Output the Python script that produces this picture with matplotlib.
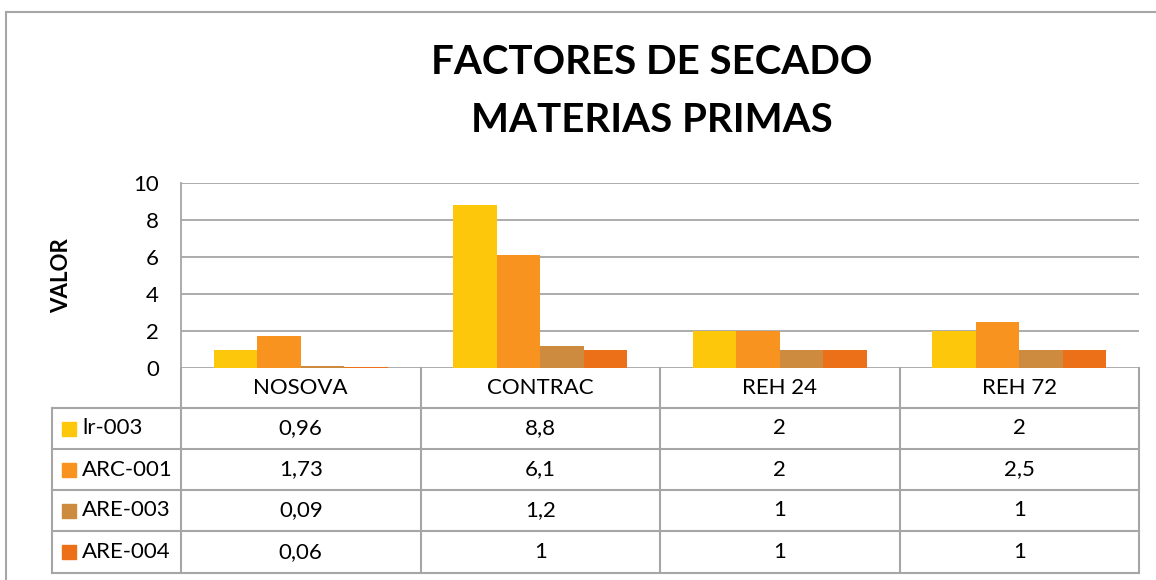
import numpy as np
import matplotlib.pyplot as plt
from matplotlib.lines import Line2D
from matplotlib.patches import Rectangle
from matplotlib import transforms

#* Datos del grafico
categorias = ['NOSOVA', 'CONTRAC', 'REH 24', 'REH 72']
series = ['lr-003', 'ARC-001', 'ARE-003', 'ARE-004']
valores_ir003 = [0.96, 8.8, 2, 2]
valores_arc001 = [1.73, 6.1, 2, 2.5]
valores_are003 = [0.09, 1.2, 1, 1]
valores_are004 = [0.06, 1, 1, 1]
textos_tabla = [
  ['0,96', '8,8', '2', '2'],
  ['1,73', '6,1', '2', '2,5'],
  ['0,09', '1,2', '1', '1'],
  ['0,06', '1', '1', '1'],
]
titulo = ['FACTORES DE SECADO', 'MATERIAS PRIMAS']
colores = ['#FDC70C', '#F7931E', '#CD8B40', '#EB7018']

W, H = 1156, 580
gris = '#A6A6A6'

plt.rcParams['font.family'] = ['Lato', 'DejaVu Sans']

def main() -> None:
  fig = plt.figure(figsize=(W/100, H/100), dpi=100)

  #* Capa en pixeles para marco y tabla
  capa = fig.add_axes([0, 0, 1, 1], zorder=0)
  capa.set_xlim(0, W)
  capa.set_ylim(H, 0)
  capa.axis('off')

  #* Eje de barras
  x0, x1, y_top, y_bot = 181, 1139, 183, 368
  ax = fig.add_axes([x0/W, 1 - y_bot/H, (x1 - x0)/W, (y_bot - y_top)/H], zorder=1)
  ax.set_facecolor('none')

  datos = [valores_ir003, valores_arc001, valores_are003, valores_are004]
  x = np.arange(len(categorias))
  ancho = 1/5.5
  for i, (vals, col) in enumerate(zip(datos, colores)):
    ax.bar(x + (i - 1.5)*ancho, vals, width=ancho, color=col, zorder=3)

  ax.set_xlim(-0.5, len(categorias) - 0.5)
  ax.set_ylim(0, 10)
  ax.set_yticks(np.arange(0, 11, 2))
  ax.set_xticks([])
  ax.yaxis.grid(True, color=gris, linewidth=1.3, zorder=0)
  for s in ['top', 'right', 'bottom']:
    ax.spines[s].set_visible(False)
  ax.spines['left'].set_color(gris)
  ax.spines['left'].set_linewidth(1.3)
  ax.tick_params(axis='y', length=0, pad=16, labelsize=16)
  ax.set_ylabel('VALOR', fontsize=16, fontweight='bold', labelpad=44)

  #* Titulo (dos lineas)
  xc = 652
  for k, linea in enumerate(titulo):
    capa.text(xc, 63 + 58*k, linea, ha='center', va='center', fontsize=29, fontweight='bold')

  #* Marco exterior
  capa.add_line(Line2D([6, W], [12, 12], color=gris, lw=1.5))
  capa.add_line(Line2D([6, 6], [12, H], color=gris, lw=1.5))

  #* Tabla de datos
  tr = transforms.blended_transform_factory(ax.transData, capa.transData)
  filas = [408, 449, 490, 531, 573]
  izq = 52
  for y in filas:
    capa.add_line(Line2D([izq, x1], [y, y], color=gris, lw=1.5))
  capa.add_line(Line2D([izq, izq], [filas[0], filas[-1]], color=gris, lw=1.5))
  for k in range(len(categorias) + 1):
    ax.add_line(Line2D([k - 0.5, k - 0.5], [y_bot, filas[-1]], color=gris, lw=1.5,
                       transform=tr, clip_on=False))

  for j, cat in enumerate(categorias):
    capa.text(j, (y_bot + filas[0])/2, cat, transform=tr, ha='center', va='center', fontsize=16)
  for i, nombre in enumerate(series):
    yc = (filas[i] + filas[i + 1])/2
    capa.add_patch(Rectangle((62, yc - 7), 14, 14, color=colores[i]))
    capa.text(82, yc, nombre, ha='left', va='center', fontsize=16)
    for j in range(len(categorias)):
      capa.text(j, yc, textos_tabla[i][j], transform=tr, ha='center', va='center', fontsize=16)

  fig.savefig('out.png', dpi=100)

if __name__ == "__main__":
  main()
